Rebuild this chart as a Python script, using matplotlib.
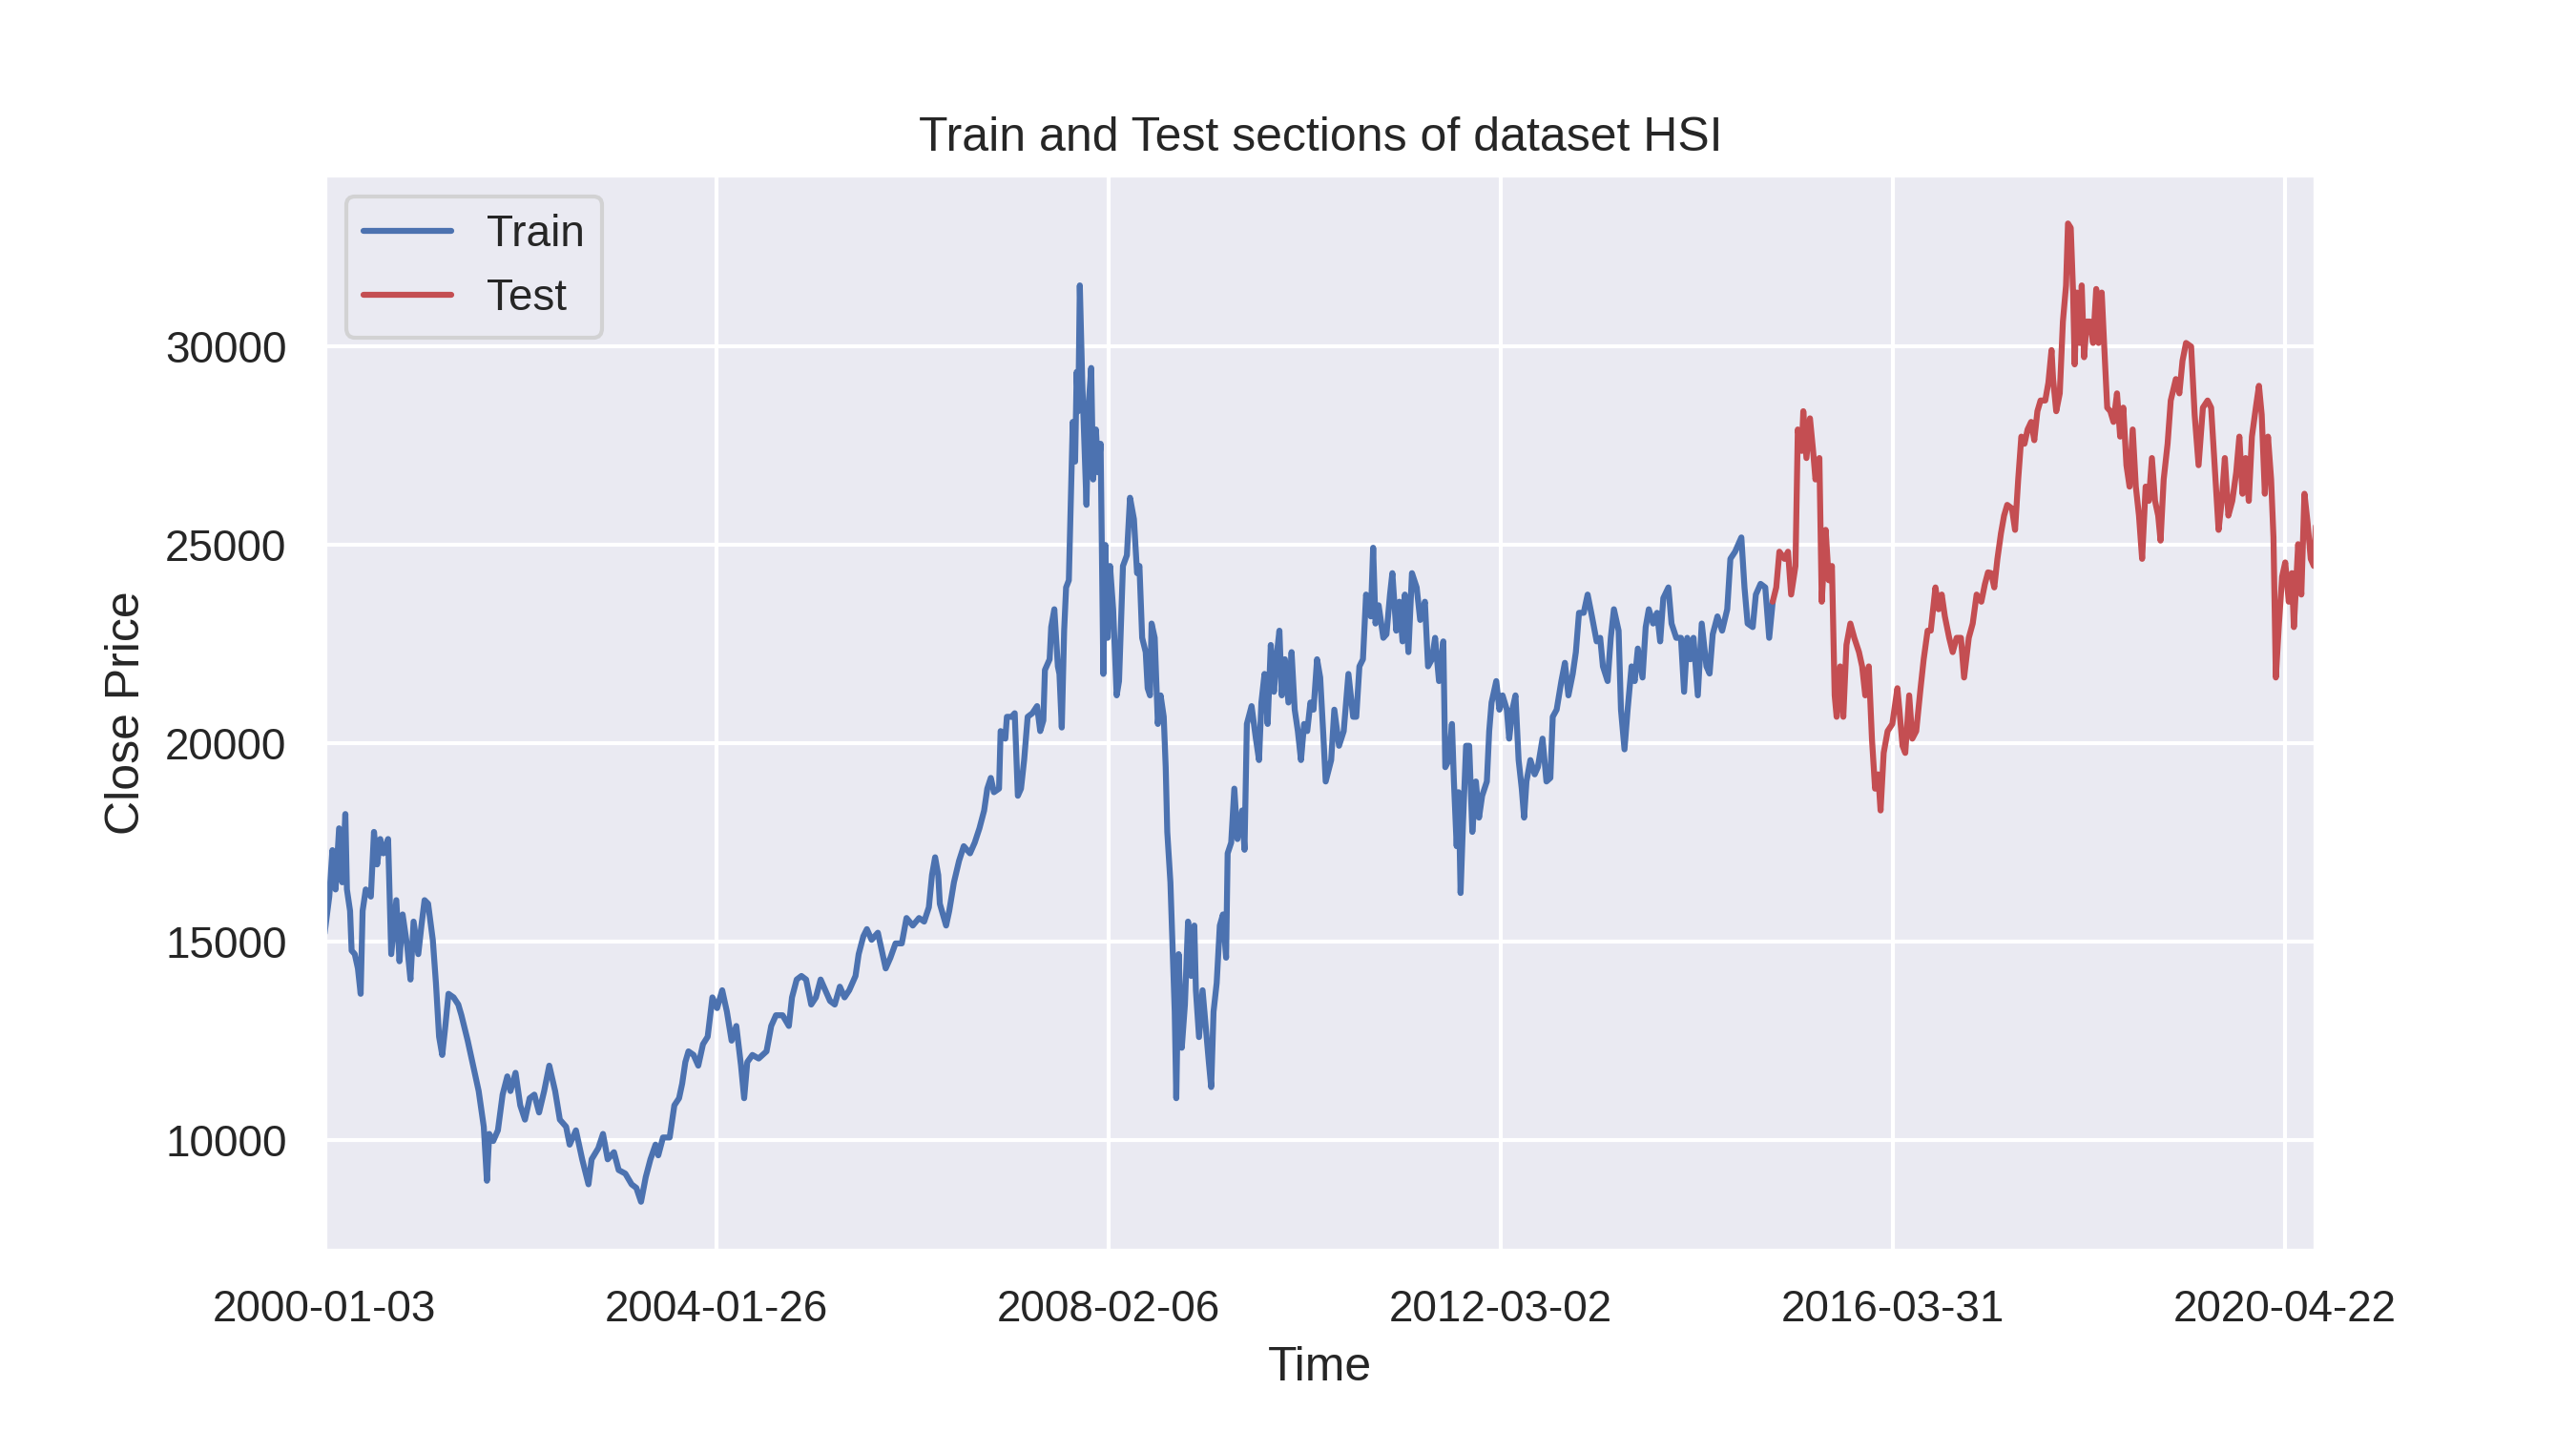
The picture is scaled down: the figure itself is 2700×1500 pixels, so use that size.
import matplotlib
matplotlib.use("Agg")
import matplotlib.pyplot as plt
import seaborn as sns

# trading-day index (0 = 2000-01-03) and close price
train_day = [
    0, 12, 20, 28, 37, 45, 53, 57, 65, 69, 77, 85, 92, 97, 105, 118, 126, 134, 142, 150,
    162, 170, 183, 191, 199, 211, 219, 227, 239, 247, 255, 264, 276, 284, 292, 300, 308, 316, 329, 341,
    349, 365, 381, 393, 406, 414, 420, 430, 442, 454, 466, 474, 487, 499, 511, 523, 535, 547, 560, 573,
    588, 600, 616, 625, 641, 657, 673, 681, 698, 710, 722, 738, 750, 767, 783, 795, 807, 819, 831, 844,
    851, 863, 880, 892, 904, 912, 920, 928, 941, 953, 965, 977, 989, 1001, 1014, 1026, 1038, 1050, 1062, 1070,
    1078, 1091, 1107, 1127, 1139, 1151, 1168, 1184, 1192, 1204, 1216, 1228, 1241, 1253, 1265, 1277, 1289, 1301, 1314, 1326,
    1338, 1354, 1362, 1374, 1383, 1395, 1411, 1423, 1431, 1443, 1456, 1472, 1484, 1500, 1516, 1529, 1541, 1549, 1557, 1565,
    1569, 1585, 1593, 1605, 1618, 1630, 1646, 1658, 1670, 1682, 1690, 1699, 1707, 1720, 1724, 1736, 1740, 1752, 1760, 1768,
    1776, 1784, 1793, 1805, 1817, 1825, 1833, 1837, 1849, 1853, 1861, 1870, 1874, 1880, 1886, 1891, 1898, 1902, 1908, 1914,
    1918, 1922, 1926, 1932, 1937, 1943, 1948, 1955, 1960, 1967, 1973, 1979, 1986, 1991, 1997, 2003, 2011, 2020, 2026, 2036,
    2046, 2054, 2064, 2072, 2078, 2085, 2094, 2099, 2105, 2109, 2117, 2125, 2132, 2140, 2145, 2149, 2157, 2163, 2168, 2172,
    2178, 2186, 2194, 2202, 2210, 2218, 2222, 2230, 2239, 2247, 2255, 2261, 2267, 2275, 2283, 2291, 2299, 2303, 2312, 2320,
    2328, 2340, 2346, 2352, 2364, 2375, 2383, 2389, 2397, 2405, 2413, 2421, 2429, 2435, 2441, 2449, 2458, 2466, 2474, 2482,
    2490, 2498, 2506, 2514, 2522, 2531, 2539, 2547, 2553, 2567, 2575, 2587, 2599, 2611, 2623, 2631, 2639, 2648, 2656, 2668,
    2674, 2680, 2688, 2700, 2708, 2717, 2723, 2733, 2741, 2749, 2755, 2764, 2773, 2785, 2794, 2806, 2814, 2824, 2832, 2842,
    2853, 2858, 2867, 2875, 2880, 2887, 2892, 2897, 2903, 2911, 2919, 2927, 2936, 2944, 2952, 2964, 2970, 2976, 2988, 2996,
    3004, 3015, 3021, 3029, 3037, 3045, 3053, 3059, 3065, 3075, 3086, 3094, 3106, 3116, 3126, 3132, 3142, 3154, 3163, 3172,
    3183, 3191, 3199, 3211, 3221, 3232, 3244, 3253, 3260, 3272, 3280, 3288, 3300, 3306, 3315, 3323, 3333, 3341, 3349, 3361,
    3369, 3377, 3388, 3398, 3406, 3414, 3427, 3435, 3447, 3459, 3467, 3475, 3483, 3491, 3502, 3512, 3524, 3532, 3540, 3552,
    3564, 3577, 3585, 3597, 3613, 3621, 3629, 3642, 3650, 3662, 3674, 3684, 3693,
]
train_close = [
    15200, 16130, 17300, 16310, 17850, 16490, 18210, 16310, 15770, 14770, 14680, 14320, 13680, 15770, 16310, 16130, 17760, 16940, 17580, 17220,
    17580, 14680, 16040, 14500, 15680, 14860, 14040, 15500, 14680, 15400, 16040, 15950, 15040, 13950, 12600, 12140, 12870, 13680, 13590, 13410,
    13140, 12500, 11780, 11230, 10330, 8970, 10150, 9970, 10240, 11140, 11600, 11230, 11690, 10870, 10510, 11050, 11140, 10690, 11230, 11870,
    11230, 10510, 10330, 9880, 10240, 9510, 8880, 9510, 9790, 10150, 9510, 9690, 9240, 9150, 8880, 8790, 8440, 9060, 9510, 9880,
    9610, 10060, 10060, 10870, 11050, 11420, 11960, 12230, 12140, 11870, 12410, 12600, 13590, 13320, 13770, 13230, 12500, 12870, 11870, 11050,
    11960, 12140, 12050, 12230, 12870, 13140, 13140, 12870, 13590, 14040, 14130, 14040, 13410, 13590, 14040, 13770, 13500, 13410, 13860, 13590,
    13770, 14130, 14680, 15130, 15310, 15040, 15220, 14680, 14320, 14590, 14950, 14950, 15590, 15400, 15590, 15500, 15860, 16670, 17120, 16670,
    15950, 15400, 15770, 16490, 17030, 17400, 17220, 17490, 17850, 18300, 18850, 19120, 18760, 18850, 20300, 20110, 20660, 20660, 20750, 18670,
    18850, 19570, 20660, 20750, 20930, 20300, 20570, 21840, 22110, 22920, 23370, 21930, 21740, 20390, 22830, 23920, 24100, 25730, 28090, 27090,
    29350, 28360, 31530, 29170, 27720, 26000, 28450, 29450, 26640, 27900, 26820, 27540, 21740, 24990, 22650, 24460, 23370, 21200, 21560, 24460,
    24730, 26180, 25640, 24280, 24460, 22650, 22290, 21380, 21200, 23010, 22650, 20480, 21200, 20660, 19390, 17760, 16490, 14680, 13230, 11050,
    14680, 12320, 13410, 15500, 14130, 15400, 13770, 12590, 13770, 12870, 11960, 11330, 13230, 13950, 15400, 15680, 14590, 17220, 17490, 18850,
    17580, 18300, 17310, 20480, 20930, 20110, 19570, 21020, 21740, 20480, 22470, 21290, 22290, 22830, 21200, 22110, 21020, 22290, 20840, 20300,
    19570, 20480, 20300, 21020, 20840, 22110, 21650, 20200, 19030, 19570, 20840, 19930, 20300, 21740, 20660, 20660, 21930, 22110, 23740, 23190,
    24920, 23010, 23470, 22650, 22740, 23740, 24280, 22830, 23560, 22560, 23740, 22290, 24280, 23920, 23100, 23560, 21930, 22110, 22650, 21560,
    22560, 19390, 19570, 20480, 19030, 17400, 18760, 16220, 17940, 19930, 19930, 17760, 19030, 18120, 18670, 19030, 20300, 21020, 21560, 20840,
    21200, 20840, 20110, 20840, 21200, 19570, 18850, 18120, 19030, 19570, 19210, 19390, 20110, 19030, 19120, 20660, 20840, 21560, 22020, 21200,
    21740, 22290, 23280, 23280, 23740, 23190, 22560, 22650, 21930, 21560, 22650, 23370, 22830, 20840, 19840, 20840, 21930, 21560, 22380, 21650,
    22920, 23370, 23010, 23280, 22560, 23650, 23920, 23010, 22650, 22650, 21290, 22650, 22110, 22650, 21200, 23010, 21930, 21750, 22740, 23190,
    22830, 23370, 24640, 24820, 25180, 23920, 23010, 22920, 23740, 24010, 23920, 22650, 23560,
]

test_day = [
    3693, 3702, 3710, 3723, 3732, 3740, 3751, 3757, 3767, 3771, 3779, 3788, 3796, 3802, 3812, 3818, 3828, 3836, 3844, 3851,
    3856, 3865, 3873, 3881, 3891, 3901, 3913, 3921, 3929, 3938, 3946, 3954, 3962, 3968, 3976, 3986, 3998, 4011, 4016, 4024,
    4031, 4041, 4049, 4059, 4070, 4078, 4088, 4096, 4108, 4116, 4124, 4132, 4143, 4152, 4162, 4173, 4181, 4193, 4203, 4213,
    4225, 4234, 4242, 4250, 4258, 4266, 4275, 4283, 4291, 4303, 4311, 4319, 4327, 4335, 4343, 4352, 4360, 4368, 4376, 4388,
    4396, 4404, 4408, 4416, 4425, 4433, 4441, 4446, 4453, 4459, 4463, 4469, 4476, 4481, 4487, 4494, 4502, 4510, 4518, 4524,
    4532, 4538, 4546, 4554, 4562, 4571, 4579, 4587, 4595, 4603, 4611, 4619, 4627, 4635, 4644, 4652, 4660, 4668, 4676, 4682,
    4690, 4700, 4708, 4721, 4730, 4738, 4747, 4760, 4769, 4779, 4790, 4802, 4811, 4820, 4830, 4838, 4846, 4855, 4865, 4875,
    4883, 4891, 4899, 4907, 4915, 4925, 4933, 4940, 4948, 4956, 4964, 4970, 4976, 4984, 4992, 5000, 5009, 5017, 5022, 5033,
    5041, 5049, 5057, 5065, 5073, 5078,
]
test_close = [
    23560, 23920, 24820, 24640, 24820, 23740, 24460, 27900, 27360, 28360, 27180, 28180, 27360, 26640, 27180, 23560, 25370, 24100, 24460, 21200,
    20660, 21930, 20660, 22470, 23010, 22650, 22290, 21930, 21200, 21930, 20110, 18850, 19210, 18300, 19750, 20300, 20480, 21380, 20840, 19930,
    19750, 21200, 20110, 20300, 21380, 22110, 22830, 22830, 23920, 23370, 23740, 23190, 22650, 22290, 22650, 22650, 21650, 22650, 23010, 23740,
    23560, 24000, 24300, 24280, 23920, 24640, 25280, 25730, 26000, 25910, 25370, 26640, 27720, 27540, 27900, 28090, 27630, 28360, 28630, 28630,
    29080, 29900, 29170, 28360, 28810, 30620, 31530, 33090, 32980, 31350, 29540, 31350, 30080, 31530, 29720, 30620, 30620, 30080, 31440, 30080,
    31350, 30080, 28450, 28360, 28090, 28810, 27720, 28450, 27000, 26460, 27900, 26460, 25730, 24640, 26460, 26100, 27180, 26100, 25730, 25100,
    26640, 27540, 28630, 29170, 28810, 29630, 30080, 29990, 28270, 27000, 28450, 28630, 28450, 27000, 25370, 26100, 27180, 25730, 26100, 26820,
    27720, 26280, 27180, 26100, 27720, 28450, 29000, 28270, 26280, 27720, 26640, 25180, 21650, 23010, 24190, 24550, 23560, 24280, 22920, 25010,
    23740, 26280, 25550, 24640, 24460, 25460,
]

tick_days = [0, 1000, 2000, 3000, 4000, 5000]
tick_dates = ['2000-01-03', '2004-01-26', '2008-02-06', '2012-03-02', '2016-03-31', '2020-04-22']

sns.set()
plt.rcParams['font.family'] = ['Liberation Sans', 'DejaVu Sans']

fig, ax = plt.subplots(figsize=(9, 5), dpi=300)
fig.subplots_adjust(left=0.126, right=0.899, top=0.878, bottom=0.126)
ax.plot(train_day, train_close, color='#4c72b0', lw=1.5, label='Train')
ax.plot(test_day, test_close, color='#c44e52', lw=1.5, label='Test')
ax.set_xticks(tick_days)
ax.set_xticklabels(tick_dates)
ax.set_xlim(train_day[0], test_day[-1])
ax.set_xlabel('Time')
ax.set_ylabel('Close Price')
ax.set_title('Train and Test sections of dataset HSI')
ax.legend(loc='upper left')
fig.savefig('out.png', dpi=300)
